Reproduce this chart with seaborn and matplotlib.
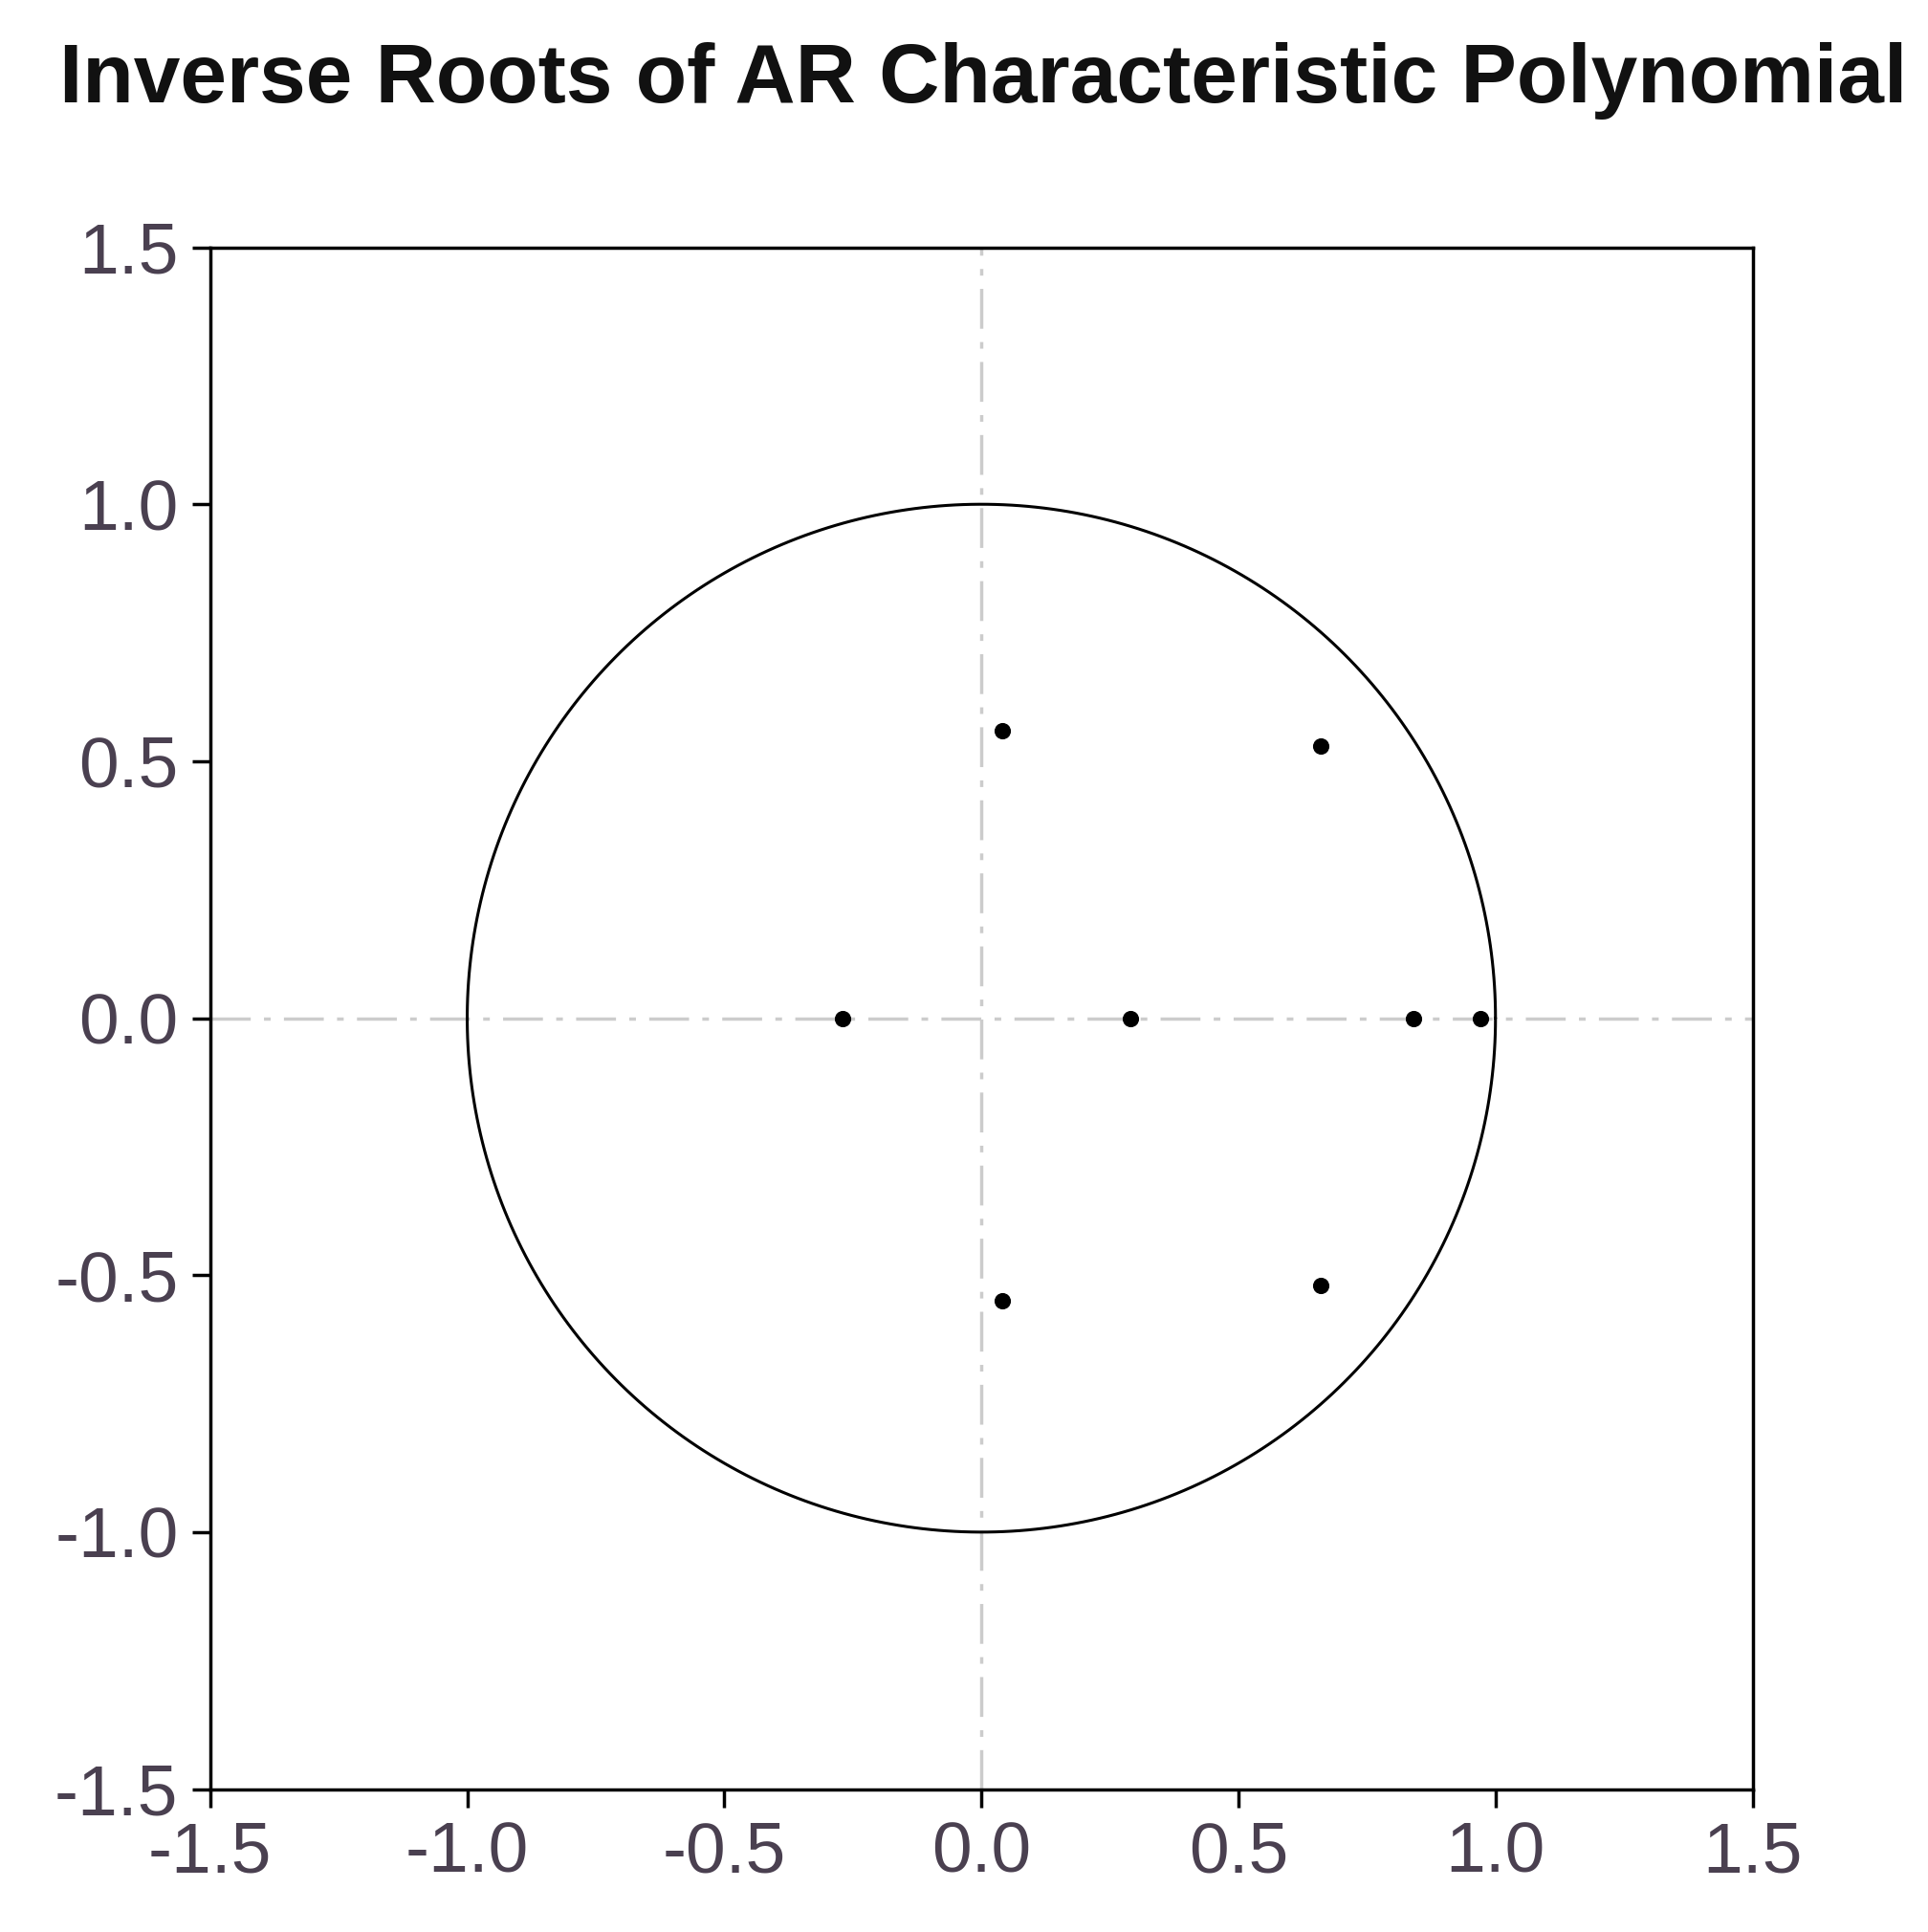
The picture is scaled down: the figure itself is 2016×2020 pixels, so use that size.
import numpy as np
import matplotlib
matplotlib.use("Agg")
import matplotlib.pyplot as plt
import seaborn as sns
import pandas as pd

# inverse roots
root_re = [0.04, 0.66, -0.27, 0.29, 0.84, 0.97, 0.04, 0.66]
root_im = [0.56, 0.53, 0.0, 0.0, 0.0, 0.0, -0.55, -0.52]
ticks = [-1.5, -1.0, -0.5, 0.0, 0.5, 1.0, 1.5]

sns.set_theme(style="white")
plt.rcParams['font.family'] = ['Liberation Sans', 'DejaVu Sans']

fig = plt.figure(figsize=(20.16, 20.2), dpi=100)
ax = fig.add_axes([0.109, 0.074, 0.80, 0.798])

ax.axhline(0, color="#cccccc", lw=2.5, ls=(0, (12, 4, 2, 4)), zorder=1)
ax.axvline(0, color="#cccccc", lw=2.5, ls=(0, (12, 4, 2, 4)), zorder=1)

t = np.linspace(0, 2 * np.pi, 400)
ax.plot(np.cos(t), np.sin(t), color="black", lw=2.2, zorder=2)

df = pd.DataFrame({"re": root_re, "im": root_im})
sns.scatterplot(data=df, x="re", y="im", ax=ax, color="black", s=130,
                marker="o", edgecolor="black", zorder=3)

ax.set_xlim(-1.5, 1.5)
ax.set_ylim(-1.5, 1.5)
ax.set_xticks(ticks)
ax.set_yticks(ticks)
ax.set_xticklabels([f"{v:.1f}" for v in ticks])
ax.set_yticklabels([f"{v:.1f}" for v in ticks])
ax.set_xlabel("")
ax.set_ylabel("")
ax.tick_params(axis="both", direction="out", length=14, width=2.5,
               labelsize=54, colors="black", labelcolor="#4a4050", pad=10,
               bottom=True, left=True)
for s in ax.spines.values():
    s.set_color("black")
    s.set_linewidth(2.5)

fig.text(0.031, 0.958, "Inverse Roots of AR Characteristic Polynomial",
         fontsize=63, fontweight="bold", ha="left", va="center", color="#111111")

fig.savefig("out.png", dpi=100)
